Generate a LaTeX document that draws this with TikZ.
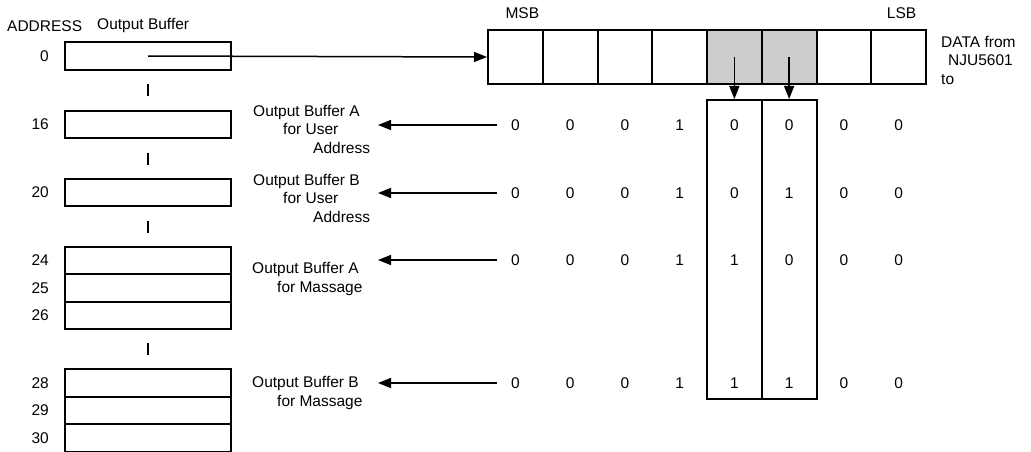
\documentclass[tikz,border=0pt]{standalone}
\usepackage{fontspec}
\setmainfont{Liberation Sans}
\usepackage{tikz}
\usetikzlibrary{arrows.meta, positioning, calc}
\definecolor{bitshade}{HTML}{CDCDCD}

\begin{document}
\begin{tikzpicture}[x=1pt, y=-1pt, font=\fontsize{15.5}{18.5}\selectfont,
    every node/.append style={inner sep=0pt},
    bufbox/.style={draw, line width=2pt, minimum width=166pt, minimum height=27.5pt},
    cellbox/.style={draw, line width=2pt, minimum width=54.75pt, minimum height=54pt},
    colbox/.style={draw, line width=2pt, minimum width=54.75pt, minimum height=299pt},
    arr/.style={line width=1.5pt, -{Triangle[length=13pt, width=10pt]}},
    lbl/.style={align=left, anchor=west}]
\useasboundingbox (0,0) rectangle (1031,452);

\node[anchor=west] (hdaddr) at (7, 26) {ADDRESS};
\node[anchor=west] (hdbuf) at (97, 26) {Output Buffer};

\foreach \addr/\ypos in {0/56, 16/124.5, 20/192.5, 24/260.5, 25/288, 26/315.5, 28/383, 29/410.5, 30/438}
{
    \node[bufbox] (buf\addr) at (148, \ypos) {};
    \node[left=15pt of buf\addr] (adr\addr) {\addr};
}
\foreach \a/\b in {0/16, 16/20, 20/24, 26/28}
    \draw[line width=1.5pt] ($(buf\a.south)!0.5!(buf\b.north)$) +(0,-6) -- +(0,6);

\foreach \i/\col in {1/white, 2/white, 3/white, 4/white, 5/bitshade, 6/bitshade, 7/white, 8/white}
    \node[cellbox, fill=\col] (reg\i) at ({488+(\i-0.5)*54.75}, 57) {};
\node[above=10pt of reg1, xshift=7pt] (msb) {MSB};
\node[above=10pt of reg8, xshift=3pt] (lsb) {LSB};
\node[lbl] (datafrom) at (941, 60) {DATA from\\\hspace*{7pt}NJU5601\\to};

\draw[arr] (buf0.center) -- (reg1.west);

\foreach \i in {5, 6}
{
    \node[colbox] (col\i) at ({488+(\i-0.5)*54.75}, 249.5) {};
    \draw[arr] (reg\i.center) -- (col\i.north);
}

\foreach \row/\ypos/\bits in {1/125/{0,0,0,1,0,0,0,0}, 2/193/{0,0,0,1,0,1,0,0},
    3/260/{0,0,0,1,1,0,0,0}, 4/383/{0,0,0,1,1,1,0,0}}
{
    \foreach \b [count=\c] in \bits
        \node (bit\row-\c) at ({488+(\c-0.5)*54.75}, \ypos) {\b};
    \coordinate (tip\row) at (378, \ypos);
    \draw[arr, shorten <=14pt] (bit\row-1.west) -- (tip\row);
}

\node[lbl] (lab1) at (253, 129) {Output Buffer A\\\hspace*{30pt}for User\\\hspace*{60pt}Address};
\node[lbl] (lab2) at (253, 198) {Output Buffer B\\\hspace*{30pt}for User\\\hspace*{60pt}Address};
\node[lbl] (lab3) at (252, 279) {Output Buffer A\\\hspace*{25pt}for Massage};
\node[lbl] (lab4) at (252, 393) {Output Buffer B\\\hspace*{25pt}for Massage};
\end{tikzpicture}
\end{document}
